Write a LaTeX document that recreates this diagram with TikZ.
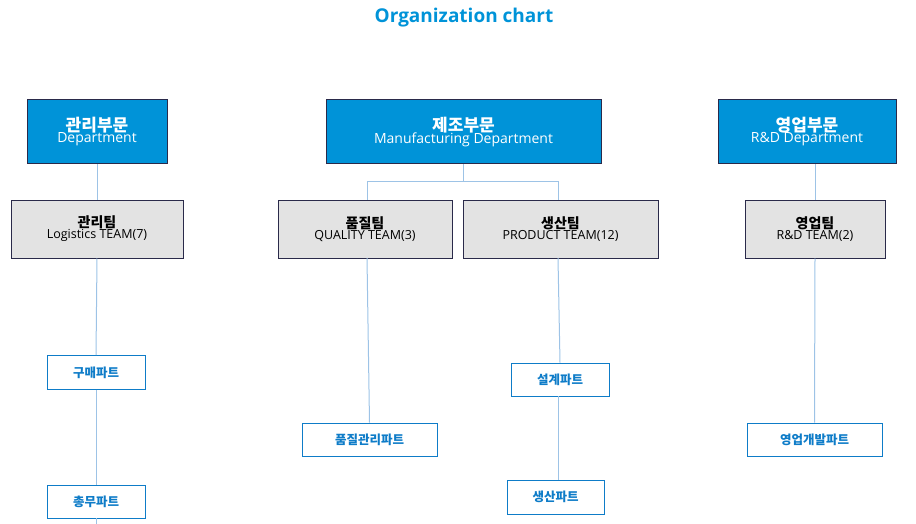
\documentclass[tikz,border=0pt]{standalone}
\usepackage{fontspec}
\setmainfont{Noto Sans CJK KR}
\newfontfamily\latin{Open Sans}
\definecolor{dept}{HTML}{0093D8}
\definecolor{team}{HTML}{E3E3E3}
\definecolor{bord}{HTML}{2A2A4A}
\definecolor{ln}{HTML}{9DC3E6}
\definecolor{pt}{HTML}{0E7CC8}
\begin{document}
\begin{tikzpicture}[x=1pt,y=-1pt,
 dept/.style={draw=bord,fill=dept,line width=1pt,text=white,align=center,inner sep=0pt},
 team/.style={draw=bord,fill=team,line width=1pt,text=black,align=center,inner sep=0pt},
 part/.style={draw=pt,fill=white,line width=0.8pt,text=pt,font=\bfseries\fontsize{12.5}{14}\selectfont,inner sep=0pt},
 ln/.style={draw=ln,line width=1pt}]
\useasboundingbox (0,0) rectangle (916,524);
\node[text=dept,font=\bfseries\fontsize{19}{22}\selectfont\latin] (title) at (464,18) {Organization chart};
\newcommand\dbox[5]{\node[dept,minimum width=#3,minimum height=64] (#1) at (#2,132) {{\bfseries\fontsize{17}{21}\selectfont #4}\\[-1pt]{\latin\fontsize{14}{17}\selectfont #5}};}
\newcommand\tbox[5]{\node[team,minimum width=#3,minimum height=58] (#1) at (#2,229) {{\bfseries\fontsize{14}{18}\selectfont #4}\\[-1pt]{\latin\fontsize{12.5}{15}\selectfont #5}};}
\dbox{d1}{97}{140}{관리부문}{Department}
\dbox{d2}{463.5}{275}{제조부문}{Manufacturing Department}
\dbox{d3}{807}{178}{영업부문}{R\&D Department}
\tbox{t1}{97}{172}{관리팀}{Logistics TEAM(7)}
\tbox{t2}{365}{174}{품질팀}{QUALITY TEAM(3)}
\tbox{t3}{560.5}{195}{생산팀}{PRODUCT TEAM(12)}
\tbox{t4}{815}{140}{영업팀}{R\&D TEAM(2)}
\node[part,minimum width=98,minimum height=34] (p1) at (96,372.5) {구매파트};
\node[part,minimum width=98,minimum height=33] (p2) at (96,501.5) {총무파트};
\node[part,minimum width=135,minimum height=33] (p3) at (369.5,439.5) {품질관리파트};
\node[part,minimum width=98,minimum height=33] (p4) at (560,379.5) {설계파트};
\node[part,minimum width=97,minimum height=34] (p5) at (555.5,497) {생산파트};
\node[part,minimum width=135,minimum height=33] (p6) at (814.5,439.5) {영업개발파트};
\coordinate (e) at (96,524);
\begin{scope}[on background layer/.style={}]
\end{scope}
\draw[ln] (d1.south) -- (t1.north);
\draw[ln] (t1.south) -- (p1.north);
\draw[ln] (p1.south) -- (p2.north);
\draw[ln] (p2.south) -- (e);
\draw[ln] (d2.south) -- ++(0,17) -| (367,200);
\draw[ln] (d2.south) -- ++(0,17) -| (558,200);
\draw[ln] (367,258) -- (p3.north);
\draw[ln] (558,258) -- (p4.north);
\draw[ln] (558,396) -- (558,480);
\draw[ln] (815,164) -- (t4.north);
\draw[ln] (t4.south) -- (p6.north);
\end{tikzpicture}
\end{document}
